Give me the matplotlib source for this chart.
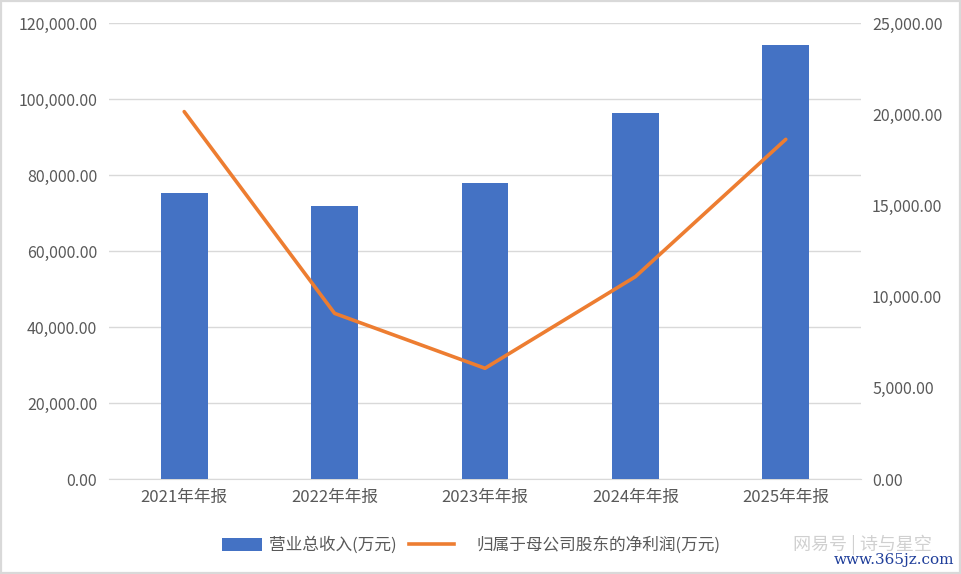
import matplotlib
matplotlib.use("Agg")
import matplotlib.pyplot as plt
from matplotlib.ticker import FuncFormatter, FixedLocator
from matplotlib.lines import Line2D
from matplotlib.patches import Patch, Rectangle

plt.rcParams['font.family'] = ['Noto Sans CJK SC', 'DejaVu Sans']

categories = ["2021年年报", "2022年年报", "2023年年报", "2024年年报", "2025年年报"]
revenue = [75180, 71840, 77820, 96240, 114210]
net_profit = [20140, 9080, 6070, 11090, 18620]
left_ticks = [0, 20000, 40000, 60000, 80000, 100000, 120000]
right_ticks = [0, 5000, 10000, 15000, 20000, 25000]
legend_labels = ["营业总收入(万元)", "归属于母公司股东的净利润(万元)"]

blue = "#4472C4"
orange = "#ED7D31"
tick_color = "#595959"

fig = plt.figure(figsize=(9.62, 5.74), dpi=100)
fig.patches.append(Rectangle((0.001, 0.002), 0.997, 0.996, transform=fig.transFigure,
                             fill=False, edgecolor="#D9D9D9", linewidth=1.6))
ax = fig.add_axes([0.1133, 0.1655, 0.7817, 0.7945])
x = list(range(len(categories)))
ax.bar(x, revenue, width=0.31, color=blue, zorder=3)
ax.set_xlim(-0.5, len(categories) - 0.5)
ax.set_ylim(0, 120000)
ax.yaxis.set_major_locator(FixedLocator(left_ticks))
ax.yaxis.set_major_formatter(FuncFormatter(lambda v, p: f"{v:,.2f}"))
ax.grid(axis='y', color="#D9D9D9", linewidth=1, zorder=0)
ax.set_xticks(x)
ax.set_xticklabels(categories)
for s in ['top', 'right', 'left']:
    ax.spines[s].set_visible(False)
ax.spines['bottom'].set_color("#D9D9D9")
ax.tick_params(axis='y', length=0, colors=tick_color, labelsize=11.5, pad=8.5)
ax.tick_params(axis='x', length=0, colors=tick_color, labelsize=12, pad=7)

ax2 = ax.twinx()
ax2.plot(x, net_profit, color=orange, linewidth=2.6, solid_capstyle='round', zorder=4)
ax2.set_ylim(0, 25000)
ax2.yaxis.set_major_locator(FixedLocator(right_ticks))
ax2.yaxis.set_major_formatter(FuncFormatter(lambda v, p: f"{v:,.2f}"))
for s in ['top', 'right', 'left', 'bottom']:
    ax2.spines[s].set_visible(False)
ax2.tick_params(axis='y', length=0, colors=tick_color, labelsize=11.5, pad=8)

leg1 = fig.legend([Patch(facecolor=blue, edgecolor='none')], [legend_labels[0]],
                  loc='center left', bbox_to_anchor=(222 / 962, 0.05),
                  frameon=False, fontsize=12, labelcolor=tick_color,
                  handlelength=2.4, handleheight=0.85, handletextpad=0.4,
                  borderpad=0, borderaxespad=0)
leg2 = fig.legend([Line2D([0], [0], color=orange, linewidth=2.6)], [legend_labels[1]],
                  loc='center left', bbox_to_anchor=(409 / 962, 0.05),
                  frameon=False, fontsize=12, labelcolor=tick_color,
                  handlelength=2.7, handletextpad=1.35,
                  borderpad=0, borderaxespad=0)

fig.text(793 / 962, 0.05, "网易号 | 诗与星空", color="#D0D0D0", fontsize=13, ha='left', va='center')
fig.text(0.992, 0.024, "www.365jz.com", color="#1F3E9A", fontsize=11, ha='right', va='center',
         family=['DejaVu Serif'])

fig.savefig("out.png", dpi=100)
